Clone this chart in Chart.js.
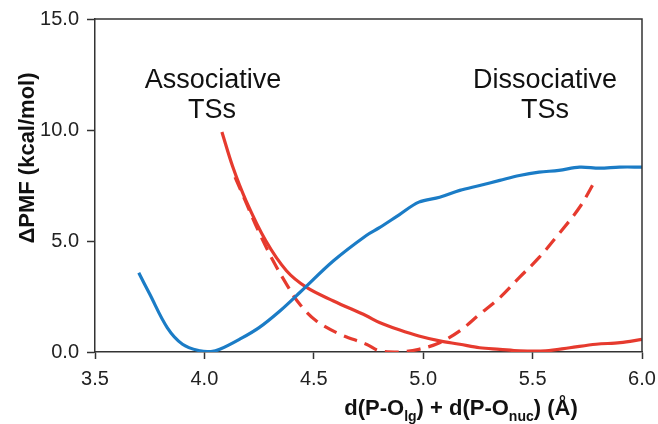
<!DOCTYPE html>
<html>
<head>
<meta charset="utf-8">
<script src="https://cdn.jsdelivr.net/npm/chart.js@4.4.1/dist/chart.umd.min.js"></script>
<style>
    html, body { margin: 0; padding: 0; background: #fff; }
    #chartBox { width: 658px; height: 424px; position: relative; }
</style>
</head>
<body>
<div id="chartBox"><canvas id="pmfChart"></canvas></div>
<script>
// tick labels
const xTicks = [3.5, 4.0, 4.5, 5.0, 5.5, 6.0];
const yTicks = [0, 5, 10, 15];

// blue curve
const blueX = [3.70, 3.75, 3.83, 3.90, 3.98, 4.03, 4.07, 4.16, 4.25, 4.345, 4.436, 4.59, 4.74, 4.80, 4.89, 4.98, 5.075, 5.167, 5.258, 5.35, 5.44, 5.53, 5.62, 5.715, 5.806, 5.897, 6.0];
const blueY = [3.57, 2.61, 1.10, 0.35, 0.05, 0.02, 0.12, 0.57, 1.10, 1.85, 2.68, 4.11, 5.25, 5.60, 6.18, 6.75, 6.97, 7.28, 7.50, 7.73, 7.95, 8.10, 8.18, 8.33, 8.28, 8.33, 8.33];

// red solid curve
const redX = [4.08, 4.13, 4.19, 4.28, 4.375, 4.467, 4.59, 4.74, 4.80, 4.89, 4.98, 5.075, 5.167, 5.258, 5.35, 5.44, 5.56, 5.67, 5.79, 5.90, 6.0];
const redY = [9.91, 8.33, 6.82, 5.02, 3.66, 2.91, 2.30, 1.63, 1.33, 1.00, 0.72, 0.50, 0.35, 0.19, 0.12, 0.05, 0.05, 0.19, 0.35, 0.42, 0.57];

// red dashed curve
const dashX = [4.14, 4.193, 4.253, 4.314, 4.375, 4.436, 4.512, 4.62, 4.74, 4.80, 4.89, 4.98, 5.075, 5.167, 5.258, 5.35, 5.44, 5.53, 5.62, 5.715, 5.79];
const dashY = [7.88, 6.67, 5.32, 4.11, 3.06, 2.15, 1.40, 0.80, 0.35, 0.05, 0.0, 0.12, 0.42, 0.95, 1.70, 2.45, 3.36, 4.26, 5.32, 6.52, 7.80];

const BLUE = "#1b7cc6";
const RED = "#e63a2e";
const AXIS = "#333333";
const FONT = "'Liberation Sans', Arial, Helvetica, sans-serif";

function toPoints(xs, ys) {
    return xs.map(function (x, i) { return { x: x, y: ys[i] }; });
}

// frame, axis titles and the two text labels
const annotations = {
    id: "annotations",
    afterDraw: function (chart) {
        const ctx = chart.ctx;
        const area = chart.chartArea;
        ctx.save();

        ctx.strokeStyle = AXIS;
        ctx.lineWidth = 1.5;
        ctx.beginPath();
        ctx.moveTo(area.left, area.top);
        ctx.lineTo(area.right, area.top);
        ctx.lineTo(area.right, area.bottom);
        ctx.stroke();

        ctx.fillStyle = "#111";
        ctx.textAlign = "center";
        ctx.textBaseline = "alphabetic";
        ctx.font = "27px " + FONT;
        ctx.fillText("Associative", 213, 88);
        ctx.fillText("TSs", 212, 118);
        ctx.fillText("Dissociative", 545, 88);
        ctx.fillText("TSs", 545, 118);

        // y title
        ctx.save();
        ctx.translate(28, 158);
        ctx.rotate(-Math.PI / 2);
        ctx.font = "bold 22px " + FONT;
        ctx.textBaseline = "middle";
        ctx.fillText("\u0394PMF (kcal/mol)", 0, 0);
        ctx.restore();

        // x title with subscripts
        const parts = [
            ["d(P-O", false], ["lg", true], [") + d(P-O", false], ["nuc", true], [") (\u00c5)", false]
        ];
        const mainFont = "bold 22px " + FONT;
        const subFont = "bold 14px " + FONT;
        let total = 0;
        parts.forEach(function (p) {
            ctx.font = p[1] ? subFont : mainFont;
            total += ctx.measureText(p[0]).width;
        });
        let x = 461 - total / 2;
        ctx.textAlign = "left";
        parts.forEach(function (p) {
            ctx.font = p[1] ? subFont : mainFont;
            ctx.fillText(p[0], x, p[1] ? 421 : 415);
            x += ctx.measureText(p[0]).width;
        });

        ctx.restore();
    }
};

function drawChart() {
    const canvas = document.getElementById("pmfChart");

    new Chart(canvas, {
        type: "line",
        data: {
            datasets: [{
                label: "blue",
                data: toPoints(blueX, blueY),
                borderColor: BLUE,
                borderWidth: 3.2,
                pointRadius: 0,
                tension: 0.35
            }, {
                label: "red",
                data: toPoints(redX, redY),
                borderColor: RED,
                borderWidth: 3.2,
                pointRadius: 0,
                tension: 0.35
            }, {
                label: "red dashed",
                data: toPoints(dashX, dashY),
                borderColor: RED,
                borderWidth: 3.2,
                borderDash: [14, 8],
                pointRadius: 0,
                tension: 0.35
            }]
        },
        options: {
            responsive: true,
            maintainAspectRatio: false,
            animation: false,
            layout: {
                padding: { top: 19, right: 16, left: 0, bottom: 0 }
            },
            plugins: {
                legend: { display: false },
                tooltip: { enabled: false }
            },
            scales: {
                x: {
                    type: "linear",
                    min: xTicks[0],
                    max: xTicks[xTicks.length - 1],
                    afterBuildTicks: function (scale) {
                        scale.ticks = xTicks.map(function (v) { return { value: v }; });
                    },
                    afterFit: function (scale) {
                        scale.height = 72;
                        scale.paddingLeft = 0;
                        scale.paddingRight = 0;
                    },
                    grid: {
                        drawOnChartArea: false,
                        drawTicks: true,
                        tickLength: 7,
                        tickColor: AXIS,
                        tickWidth: 1.5
                    },
                    border: { color: AXIS, width: 1.5 },
                    ticks: {
                        padding: 8,
                        color: "#222",
                        font: { size: 20, family: FONT },
                        maxRotation: 0,
                        callback: function (v) { return v.toFixed(1); }
                    }
                },
                y: {
                    min: yTicks[0],
                    max: yTicks[yTicks.length - 1],
                    afterBuildTicks: function (scale) {
                        scale.ticks = yTicks.map(function (v) { return { value: v }; });
                    },
                    afterFit: function (scale) {
                        scale.width = 95;
                        scale.paddingTop = 0;
                        scale.paddingBottom = 0;
                    },
                    grid: {
                        drawOnChartArea: false,
                        drawTicks: true,
                        tickLength: 8,
                        tickColor: AXIS,
                        tickWidth: 1.5
                    },
                    border: { color: AXIS, width: 1.5 },
                    ticks: {
                        padding: 8,
                        color: "#222",
                        font: { size: 20, family: FONT },
                        callback: function (v) { return v.toFixed(1); }
                    }
                }
            }
        },
        plugins: [annotations]
    });
}

drawChart();
</script>
</body>
</html>
